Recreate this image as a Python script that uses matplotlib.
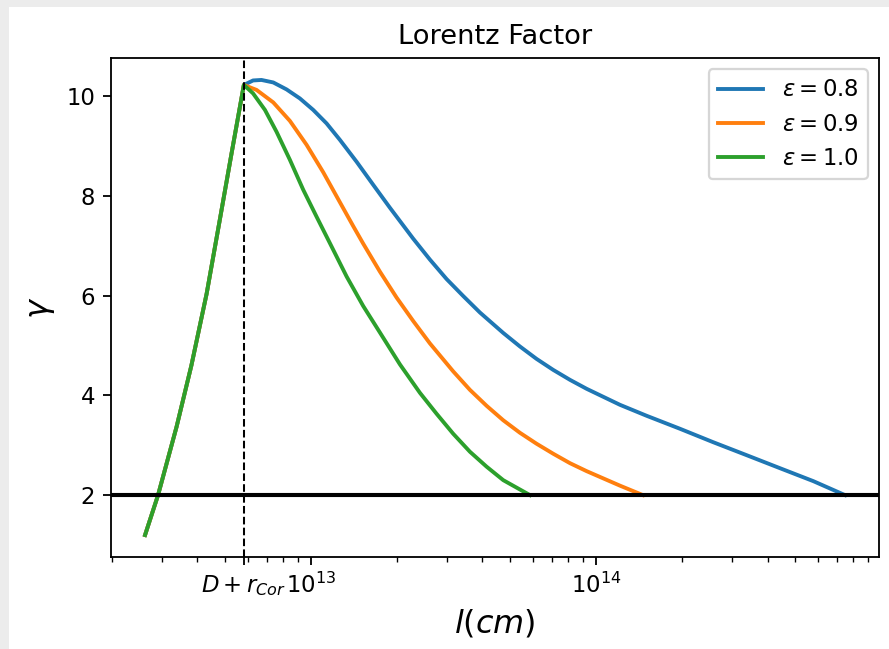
import matplotlib

matplotlib.use("Agg")
import matplotlib.pyplot as plt
from matplotlib.patches import Rectangle

# distance where the jet leaves the corona (D + r_Cor), in cm
l_cor = 5.82e12

# acceleration phase (same for all epsilon)
l_rise = [2.62e12, 2.91e12, 3.38e12, 3.81e12, 4.31e12, 4.79e12, 5.27e12, 5.82e12]
g_rise = [1.20, 2.00, 3.37, 4.60, 6.04, 7.51, 8.85, 10.22]

# deceleration phase for each epsilon
l_08 = [6.27e12, 6.71e12, 7.38e12, 8.22e12, 9.15e12, 1.019e13, 1.135e13, 1.264e13,
        1.447e13, 1.654e13, 1.893e13, 2.285e13, 2.616e13, 2.993e13, 3.423e13, 3.917e13,
        4.73e13, 5.41e13, 6.19e13, 7.08e13, 8.11e13, 9.28e13, 1.214e14, 1.506e14,
        1.971e14, 2.58e14, 3.38e14, 4.42e14, 5.79e14, 7.48e14]
g_08 = [10.31, 10.32, 10.27, 10.13, 9.95, 9.72, 9.45, 9.12,
        8.68, 8.22, 7.76, 7.14, 6.72, 6.33, 5.99, 5.66,
        5.25, 4.98, 4.73, 4.51, 4.31, 4.13, 3.81, 3.59,
        3.33, 3.06, 2.80, 2.54, 2.28, 2.00]

l_09 = [6.45e12, 7.38e12, 8.44e12, 9.66e12, 1.105e13, 1.264e13, 1.408e13, 1.526e13,
        1.746e13, 1.998e13, 2.285e13, 2.616e13, 3.157e13, 3.613e13, 4.135e13, 4.73e13,
        5.41e13, 6.19e13, 7.08e13, 8.11e13, 9.28e13, 1.214e14, 1.462e14]
g_09 = [10.12, 9.87, 9.50, 9.02, 8.47, 7.87, 7.39, 7.04,
        6.48, 5.96, 5.49, 5.04, 4.48, 4.11, 3.79, 3.50,
        3.25, 3.03, 2.83, 2.64, 2.48, 2.19, 2.00]

l_10 = [6.27e12, 6.90e12, 7.58e12, 8.44e12, 9.40e12, 1.047e13, 1.166e13, 1.335e13,
        1.526e13, 1.746e13, 2.053e13, 2.413e13, 2.761e13, 3.157e13, 3.613e13, 4.135e13,
        4.73e13, 5.87e13]
g_10 = [10.05, 9.72, 9.28, 8.72, 8.12, 7.58, 7.05, 6.38,
        5.79, 5.26, 4.62, 4.05, 3.63, 3.23, 2.87, 2.57,
        2.30, 2.00]

eps = [0.8, 0.9, 1.0]
curves = [(l_08, g_08), (l_09, g_09), (l_10, g_10)]

dpi = 164
fig = plt.figure(figsize=(889 / dpi, 649 / dpi), dpi=dpi, facecolor="#ececec")
fig.add_artist(Rectangle((9 / 889, 0), 1, 1 - 7 / 649, transform=fig.transFigure,
                         facecolor="white", edgecolor="none", zorder=-10))
ax = fig.add_axes([111 / 889, 1 - 557 / 649, 768 / 889, 499 / 649])

for e, (l, g) in zip(eps, curves):
    ax.plot(l_rise + l, g_rise + g, lw=1.7, label=rf"$\varepsilon = {e}$")

ax.axhline(2, color="k", lw=1.8)
ax.axvline(l_cor, color="k", ls="--", lw=0.9)

ax.set_xscale("log")
ax.set_xlim(1.99e12, 9.84e14)
ax.set_ylim(0.76, 10.76)
ax.set_xticks([l_cor, 1e13, 1e14], [r"$D+r_{Cor}$", r"$10^{13}$", r"$10^{14}$"])

ax.set_title("Lorentz Factor")
ax.set_xlabel(r"$l(cm)$", fontsize=14)
ax.set_ylabel(r"$\gamma$", fontsize=14)
ax.legend(loc="upper right")

fig.savefig("out.png", dpi=dpi, facecolor=fig.get_facecolor())
